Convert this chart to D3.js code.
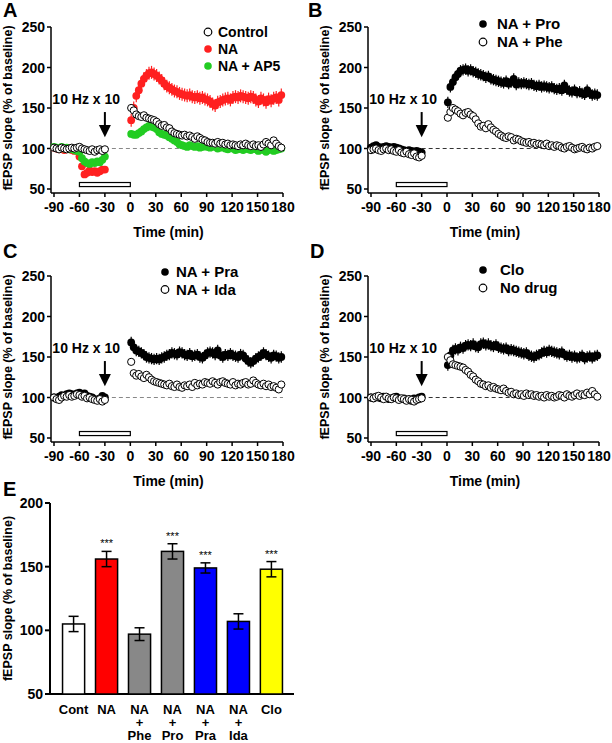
<!DOCTYPE html>
<html><head><meta charset="utf-8">
<script src="https://cdn.jsdelivr.net/npm/d3@7"></script>
<style>
body{margin:0;background:#fff;}
svg{font-family:"Liberation Sans",Arial,Helvetica,sans-serif;font-weight:bold;}
</style></head>
<body><svg id="c" width="612" height="743"></svg>
<script>
// ---------- DATA ----------
const preTimes = d3.range(-90, -29, 3);   // 21 points
const postTimes = d3.range(1, 179, 3);    // 60 points
const yTicks = [50, 100, 150, 200, 250];
const xTicks = [-90, -60, -30, 0, 30, 60, 90, 120, 150, 180];

// Panel A
const ctrlPre = [101,100,99,101,100,99,100,101,100,101,102,100,99,98,97,99,96,98,99,97,99];
const ctrlPost = [150,147,142,140,139,141,138,137,136,135,133,130,128,129,126,125,121,119,118,117,116,117,115,116,114,112,115,113,111,110,108,107,107,106,108,106,107,105,106,104,105,104,103,105,104,106,104,103,105,103,104,102,105,108,106,104,110,106,103,101];
const naPre = [101,100,99,100,98,99,100,98,97,99,90,78,68,70,73,71,72,70,72,74,74];
const naPost = [135,150,165,172,180,186,190,193,194,192,190,187,184,180,177,175,173,171,170,168,167,166,165,166,164,163,164,162,163,161,160,158,155,153,157,158,160,161,162,160,163,164,163,165,164,163,162,164,163,160,158,162,160,157,161,159,162,163,160,166];
const ap5Pre = [102,101,100,102,100,101,99,100,98,97,96,88,84,82,81,83,82,84,83,86,90];
const ap5Post = [118,117,117,119,121,124,126,128,127,126,124,120,118,117,116,114,112,110,108,105,104,103,102,104,103,102,103,101,102,103,102,101,103,102,100,101,102,100,99,101,100,98,99,100,98,101,99,98,100,99,97,99,98,96,98,99,97,98,99,100];
// Panel B
const proPre = [101,103,104,102,101,102,103,102,101,102,101,100,99,98,97,98,97,96,97,96,95];
const proPost = [157,176,182,188,192,196,197,198,196,197,195,194,192,191,190,188,189,186,185,184,183,182,181,183,180,182,186,179,181,180,181,180,179,180,178,177,178,176,177,176,175,176,174,173,174,172,178,173,171,170,172,169,170,168,167,172,168,166,167,166];
const phePre = [98,99,100,98,97,99,100,98,99,97,96,98,95,94,96,93,92,94,90,89,91];
const phePost = [138,145,150,148,146,143,141,144,145,142,140,136,131,127,128,125,130,126,123,121,118,116,114,113,115,114,110,112,111,109,108,107,108,106,107,105,106,105,104,106,103,104,102,104,103,101,100,102,103,101,99,100,101,102,100,99,101,100,102,103];
// Panel C
const praPre = [100,99,101,103,102,104,105,104,103,105,106,104,105,102,101,100,98,97,99,102,100];
const praPost = [168,162,158,157,155,153,150,149,148,147,148,147,149,150,152,153,155,154,153,156,155,153,152,154,151,152,153,150,149,152,155,156,155,153,158,152,150,153,152,154,152,151,150,153,152,148,145,143,145,148,150,152,155,153,151,149,152,151,149,150];
const idaPre = [100,98,97,100,102,101,103,101,102,104,103,101,102,99,100,98,97,96,98,95,97];
const idaPost = [144,130,127,129,126,124,128,125,122,120,119,118,117,116,115,117,114,113,116,113,112,115,114,116,113,118,115,117,116,119,118,117,120,118,116,119,120,118,117,116,119,115,117,116,118,119,116,117,121,118,116,115,117,114,116,113,114,112,110,116];
// Panel D
const cloPre = [100,99,101,100,99,101,100,98,99,100,101,99,98,99,97,98,96,99,98,100,101];
const cloPost = [140,152,158,160,159,162,161,164,165,164,166,163,162,166,167,165,166,164,163,165,162,161,160,161,158,159,158,157,156,155,154,155,152,151,150,152,153,155,157,156,158,157,156,155,154,156,153,151,152,150,151,149,150,152,148,150,151,149,151,152];
const noPre = [100,99,101,102,100,98,101,99,98,100,99,97,99,98,96,98,97,95,97,98,99];
const noPost = [150,146,141,140,139,138,137,134,132,128,126,122,120,117,116,114,115,112,113,111,110,109,111,108,106,107,104,105,103,104,102,105,103,104,102,103,101,102,100,103,101,102,100,101,103,102,100,104,102,101,103,105,102,104,103,106,104,108,104,101];
// error (SEM) per series: [pre, post]
const semCtrl = [2, 3], semNA = [4, 8], semAP5 = [3, 4];
const semPro = [3, 7], semPhe = [3, 4];
const semPra = [3, 7], semIda = [2, 3];
const semClo = [3, 7], semNo = [2, 4];

// Panel E
const barCats = ["Cont", "NA", "NA|+|Phe", "NA|+|Pro", "NA|+|Pra", "NA|+|Ida", "Clo"];
const barVals = [105, 156, 97, 162, 149, 107, 148];
const barErrs = [6, 6, 5, 6, 4, 6, 6];
const barSig = ["", "***", "", "***", "***", "", "***"];
const barColors = ["#ffffff", "#ff0000", "#888888", "#888888", "#0000ff", "#0000ff", "#ffff00"];
const eTicks = [50, 100, 150, 200];

// ---------- DRAW ----------
const svg = d3.select("#c");

function series(pre, post, sem) {
  return preTimes.map((t, i) => ({t, v: pre[i], e: sem[0]}))
    .concat(postTimes.map((t, i) => ({t, v: post[i], e: sem[1]})));
}

function timePanel(p) {
  const g = svg.append("g");
  const x = d3.scaleLinear().domain([-90, 180]).range(p.xr);
  const y = d3.scaleLinear().domain([50, 250]).range(p.yr);
  const axX = p.xr[0] - 3, axY = p.yr[0] + 4;
  g.append("line").attr("x1", axX).attr("x2", axX).attr("y1", y(250)).attr("y2", axY)
    .attr("stroke", "#000").attr("stroke-width", 1.5);
  g.append("line").attr("x1", axX).attr("x2", x(180)).attr("y1", axY).attr("y2", axY)
    .attr("stroke", "#000").attr("stroke-width", 1.5);
  yTicks.forEach(v => {
    g.append("line").attr("x1", axX - 4).attr("x2", axX).attr("y1", y(v)).attr("y2", y(v)).attr("stroke", "#000").attr("stroke-width", 1.5);
    g.append("text").attr("x", axX - 6).attr("y", y(v) + 5).attr("text-anchor", "end")
      .attr("font-size", 14).text(v);
  });
  xTicks.forEach(v => {
    g.append("line").attr("x1", x(v)).attr("x2", x(v)).attr("y1", axY).attr("y2", axY + 4).attr("stroke", "#000").attr("stroke-width", 1.5);
    g.append("text").attr("x", x(v)).attr("y", axY + 19).attr("text-anchor", "middle")
      .attr("font-size", 14).text(v);
  });
  g.append("text").attr("x", (x(-90) + x(180)) / 2).attr("y", axY + 44).attr("text-anchor", "middle")
    .attr("font-size", 14).text("Time (min)");
  g.append("text").attr("transform", `translate(${axX - 39},${(y(250) + y(50)) / 2}) rotate(-90)`)
    .attr("text-anchor", "middle").attr("font-size", 12.5).text("fEPSP slope (% of baseline)");
  g.append("text").attr("x", p.letterX).attr("y", p.letterY).attr("font-size", 20).text(p.letter);
  g.append("line").attr("x1", x(-30)).attr("x2", x(180)).attr("y1", y(100)).attr("y2", y(100))
    .attr("stroke", p.dashColor).attr("stroke-width", 1).attr("stroke-dasharray", "4,3");
  g.append("rect").attr("x", x(-60)).attr("y", y(58)).attr("width", x(0) - x(-60)).attr("height", y(53) - y(58))
    .attr("fill", "#fff").attr("stroke", "#000").attr("stroke-width", 1.2);
  p.series.forEach(s => {
    const d = series(s.pre, s.post, s.sem);
    const sg = g.append("g");
    sg.selectAll("line").data(d).enter().append("line")
      .attr("x1", q => x(q.t)).attr("x2", q => x(q.t))
      .attr("y1", q => y(q.v - q.e)).attr("y2", q => y(q.v + q.e))
      .attr("stroke", s.err).attr("stroke-width", 1.2);
    sg.selectAll("circle").data(d).enter().append("circle")
      .attr("cx", q => x(q.t)).attr("cy", q => y(q.v)).attr("r", s.open ? 3.6 : 3.9)
      .attr("fill", s.fill).attr("stroke", s.stroke).attr("stroke-width", s.open ? 1 : 0);
  });
  g.append("text").attr("x", x(-52)).attr("y", y(155)).attr("text-anchor", "middle")
    .attr("font-size", 14).text("10 Hz x 10");
  g.append("line").attr("x1", x(-30)).attr("x2", x(-30)).attr("y1", y(145)).attr("y2", y(128))
    .attr("stroke", "#000").attr("stroke-width", 2);
  g.append("path").attr("d", `M${x(-30) - 6},${y(129)} L${x(-30) + 6},${y(129)} L${x(-30)},${y(114)} Z`).attr("fill", "#000");
  p.legend.forEach((l, i) => {
    const ly = p.legY + i * p.legDy;
    g.append("circle").attr("cx", p.legX).attr("cy", ly).attr("r", 3.8)
      .attr("fill", l.fill).attr("stroke", l.stroke).attr("stroke-width", l.open ? 1.2 : 0);
    g.append("text").attr("x", p.legX + p.legGap).attr("y", ly + 5).attr("font-size", p.legFont).text(l.name);
  });
}

timePanel({
  letter: "A", letterX: 3, letterY: 17, xr: [54, 283], yr: [189, 27], dashColor: "#888",
  series: [
    {pre: naPre, post: naPost, sem: semNA, fill: "#ff2020", stroke: "none", err: "#ff2020"},
    {pre: ap5Pre, post: ap5Post, sem: semAP5, fill: "#22cc22", stroke: "none", err: "#22cc22"},
    {pre: ctrlPre, post: ctrlPost, sem: semCtrl, fill: "#fff", stroke: "#000", open: true, err: "#000"}
  ],
  legX: 208, legY: 32, legDy: 17, legGap: 10, legFont: 14,
  legend: [
    {name: "Control", fill: "#fff", stroke: "#000", open: true},
    {name: "NA", fill: "#ff2020", stroke: "none"},
    {name: "NA + AP5", fill: "#22cc22", stroke: "none"}
  ]
});
timePanel({
  letter: "B", letterX: 308, letterY: 17, xr: [371, 599], yr: [189, 27], dashColor: "#333",
  series: [
    {pre: proPre, post: proPost, sem: semPro, fill: "#000", stroke: "none", err: "#000"},
    {pre: phePre, post: phePost, sem: semPhe, fill: "#fff", stroke: "#000", open: true, err: "#000"}
  ],
  legX: 483, legY: 24, legDy: 18, legGap: 14, legFont: 15,
  legend: [
    {name: "NA + Pro", fill: "#000", stroke: "none"},
    {name: "NA + Phe", fill: "#fff", stroke: "#000", open: true}
  ]
});
timePanel({
  letter: "C", letterX: 3, letterY: 258, xr: [54, 283], yr: [438, 276], dashColor: "#888",
  series: [
    {pre: praPre, post: praPost, sem: semPra, fill: "#000", stroke: "none", err: "#000"},
    {pre: idaPre, post: idaPost, sem: semIda, fill: "#fff", stroke: "#000", open: true, err: "#000"}
  ],
  legX: 165, legY: 272, legDy: 17.5, legGap: 11, legFont: 15,
  legend: [
    {name: "NA + Pra", fill: "#000", stroke: "none"},
    {name: "NA + Ida", fill: "#fff", stroke: "#000", open: true}
  ]
});
timePanel({
  letter: "D", letterX: 310, letterY: 258, xr: [371, 599], yr: [438, 276], dashColor: "#333",
  series: [
    {pre: cloPre, post: cloPost, sem: semClo, fill: "#000", stroke: "none", err: "#000"},
    {pre: noPre, post: noPost, sem: semNo, fill: "#fff", stroke: "#000", open: true, err: "#000"}
  ],
  legX: 483, legY: 270, legDy: 18, legGap: 17, legFont: 15,
  legend: [
    {name: "Clo", fill: "#000", stroke: "none"},
    {name: "No drug", fill: "#fff", stroke: "#000", open: true}
  ]
});

// Panel E
(function () {
  const g = svg.append("g");
  const y = d3.scaleLinear().domain([50, 200]).range([694, 503]);
  const x = d3.scaleBand().domain(barCats).range([51, 294]).paddingInner(0.33).paddingOuter(0.35);
  const axX = 50;
  g.append("line").attr("x1", axX).attr("x2", axX).attr("y1", y(200)).attr("y2", y(50)).attr("stroke", "#000").attr("stroke-width", 2);
  g.append("line").attr("x1", axX).attr("x2", 294).attr("y1", y(50)).attr("y2", y(50)).attr("stroke", "#000").attr("stroke-width", 2);
  eTicks.forEach(v => {
    g.append("line").attr("x1", axX - 5).attr("x2", axX).attr("y1", y(v)).attr("y2", y(v)).attr("stroke", "#000").attr("stroke-width", 2);
    g.append("text").attr("x", axX - 7).attr("y", y(v) + 5).attr("text-anchor", "end").attr("font-size", 14).text(v);
  });
  g.append("text").attr("transform", `translate(12,${(y(200) + y(50)) / 2}) rotate(-90)`)
    .attr("text-anchor", "middle").attr("font-size", 12.5).text("fEPSP slope (% of baseline)");
  g.append("text").attr("x", 3).attr("y", 496).attr("font-size", 20).text("E");
  barCats.forEach((c, i) => {
    const bx = x(c), bw = x.bandwidth(), cx = bx + bw / 2;
    g.append("rect").attr("x", bx).attr("y", y(barVals[i])).attr("width", bw).attr("height", y(50) - y(barVals[i]))
      .attr("fill", barColors[i]).attr("stroke", "#000").attr("stroke-width", 1.5);
    const lo = y(barVals[i] - barErrs[i]), hi = y(barVals[i] + barErrs[i]);
    g.append("line").attr("x1", cx).attr("x2", cx).attr("y1", lo).attr("y2", hi).attr("stroke", "#000").attr("stroke-width", 1.5);
    [lo, hi].forEach(yy => g.append("line").attr("x1", cx - 5).attr("x2", cx + 5).attr("y1", yy).attr("y2", yy).attr("stroke", "#000").attr("stroke-width", 1.5));
    if (barSig[i]) g.append("text").attr("x", cx).attr("y", hi - 4).attr("text-anchor", "middle").attr("font-size", 11).attr("font-weight", "normal").attr("fill", "#000").text(barSig[i]);
    const lines = c.split("|");
    const t = g.append("text").attr("x", cx).attr("y", 714).attr("text-anchor", "middle").attr("font-size", 13);
    lines.forEach((ln, k) => {
      t.append("tspan").attr("x", cx).attr("dy", k === 0 ? 0 : 13).text(ln);
    });
  });
})();
</script></body></html>
